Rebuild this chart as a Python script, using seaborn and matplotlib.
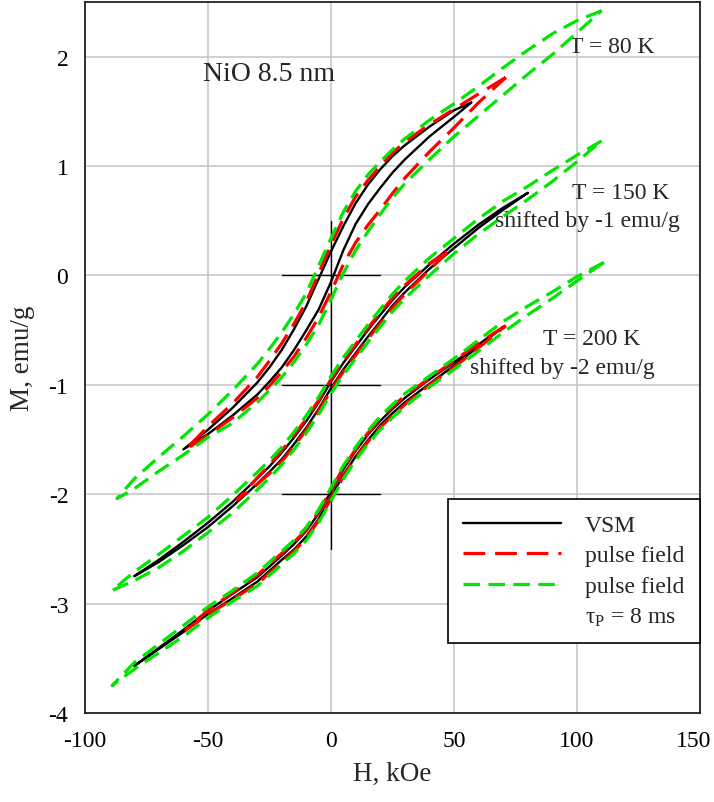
import numpy as np
import matplotlib
matplotlib.use("Agg")
import matplotlib.pyplot as plt
from matplotlib.lines import Line2D
import matplotlib.transforms as mtransforms
import seaborn as sns

# ---------------- data (raw M, emu/g; plotted = raw + shift) ----------------
temps = ["80 K", "150 K", "200 K"]
shifts = [0.0, -1.0, -2.0]

# 80 K
h80_vsm = [57, 50, 40, 30, 25, 20, 15, 10, 5, 0, -5, -10, -15, -20, -25, -30, -40, -50, -60]
m80_vsm_up = [1.58, 1.51, 1.36, 1.19, 1.09, 0.97, 0.83, 0.66, 0.45, 0.22, -0.03, -0.28, -0.49, -0.68, -0.84, -0.98, -1.21, -1.41, -1.59]
m80_vsm_lo = [1.58, 1.45, 1.27, 1.06, 0.94, 0.80, 0.65, 0.47, 0.23, -0.06, -0.31, -0.50, -0.68, -0.84, -0.97, -1.09, -1.28, -1.45, -1.59]

h80_pf = [71, 60, 50, 40, 30, 25, 20, 15, 10, 5, 0, -5, -10, -15, -20, -25, -30, -40, -50, -59]
m80_pf_up = [1.81, 1.66, 1.52, 1.38, 1.22, 1.12, 1.00, 0.87, 0.72, 0.52, 0.28, 0.02, -0.24, -0.44, -0.62, -0.78, -0.93, -1.17, -1.38, -1.59]
m80_pf_lo = [1.81, 1.58, 1.35, 1.13, 0.89, 0.75, 0.60, 0.46, 0.30, 0.10, -0.15, -0.38, -0.57, -0.74, -0.88, -1.01, -1.12, -1.30, -1.46, -1.59]

h80_pf8 = [110, 100, 90, 80, 70, 60, 50, 40, 30, 25, 20, 15, 10, 5, 0, -5, -10, -15, -20, -25, -30, -40, -50, -60, -70, -80, -87]
m80_pf8_up = [2.42, 2.33, 2.21, 2.06, 1.90, 1.73, 1.57, 1.42, 1.25, 1.15, 1.04, 0.92, 0.77, 0.58, 0.34, 0.09, -0.16, -0.35, -0.52, -0.67, -0.81, -1.05, -1.27, -1.47, -1.66, -1.86, -2.04]
m80_pf8_lo = [2.42, 2.22, 2.02, 1.84, 1.65, 1.46, 1.27, 1.06, 0.84, 0.71, 0.56, 0.40, 0.23, 0.02, -0.22, -0.45, -0.63, -0.79, -0.93, -1.05, -1.16, -1.35, -1.48, -1.64, -1.79, -1.95, -2.04]

# 150 K
h150_vsm = [80, 70, 60, 50, 40, 30, 25, 20, 15, 10, 5, 0, -5, -10, -15, -20, -25, -30, -40, -50, -60, -70, -80]
m150_vsm_up = [1.755, 1.62, 1.465, 1.29, 1.10, 0.895, 0.775, 0.64, 0.50, 0.35, 0.20, 0.03, -0.16, -0.33, -0.48, -0.62, -0.745, -0.855, -1.07, -1.26, -1.435, -1.60, -1.75]
m150_vsm_lo = [1.755, 1.60, 1.435, 1.25, 1.06, 0.845, 0.725, 0.58, 0.44, 0.29, 0.14, -0.03, -0.22, -0.39, -0.54, -0.68, -0.795, -0.905, -1.11, -1.30, -1.465, -1.62, -1.75]

h150_pf = [47, 40, 30, 25, 20, 15, 10, 5, 0, -5, -10, -15, -20, -25, -30, -38]
m150_pf_up = [1.21, 1.11, 0.91, 0.795, 0.66, 0.52, 0.37, 0.22, 0.05, -0.14, -0.31, -0.46, -0.60, -0.73, -0.85, -1.05]
m150_pf_lo = [1.21, 1.05, 0.83, 0.705, 0.56, 0.42, 0.27, 0.12, -0.05, -0.24, -0.41, -0.56, -0.70, -0.81, -0.91, -1.05]

h150_pf8 = [110, 100, 90, 80, 70, 60, 50, 40, 30, 25, 20, 15, 10, 5, 0, -5, -10, -15, -20, -25, -30, -40, -50, -60, -70, -80, -89]
m150_pf8_up = [2.23, 2.10, 1.96, 1.815, 1.68, 1.52, 1.34, 1.16, 0.95, 0.83, 0.69, 0.55, 0.40, 0.25, 0.08, -0.11, -0.28, -0.43, -0.57, -0.69, -0.80, -1.01, -1.21, -1.38, -1.55, -1.71, -1.88]
m150_pf8_lo = [2.23, 2.04, 1.86, 1.695, 1.54, 1.38, 1.20, 1.00, 0.79, 0.67, 0.53, 0.39, 0.24, 0.09, -0.08, -0.27, -0.44, -0.59, -0.73, -0.85, -0.96, -1.17, -1.35, -1.52, -1.67, -1.79, -1.88]

# 200 K
h200_vsm = [70, 60, 50, 40, 30, 25, 20, 15, 10, 5, 0, -5, -10, -15, -20, -25, -30, -40, -50, -60, -70, -80]
m200_vsm_up = [1.53, 1.37, 1.205, 1.05, 0.88, 0.78, 0.67, 0.545, 0.395, 0.225, 0.025, -0.175, -0.335, -0.455, -0.56, -0.66, -0.76, -0.91, -1.065, -1.24, -1.405, -1.57]
m200_vsm_lo = [1.53, 1.35, 1.175, 1.01, 0.84, 0.74, 0.63, 0.495, 0.345, 0.175, -0.025, -0.225, -0.385, -0.505, -0.60, -0.70, -0.80, -0.95, -1.095, -1.26, -1.415, -1.57]

h200_pf = [71, 60, 50, 40, 30, 25, 20, 15, 10, 5, 0, -5, -10, -15, -20, -25, -30, -40, -50, -59]
m200_pf_up = [1.54, 1.38, 1.22, 1.06, 0.90, 0.80, 0.69, 0.56, 0.41, 0.24, 0.04, -0.16, -0.32, -0.44, -0.54, -0.64, -0.74, -0.90, -1.06, -1.24]
m200_pf_lo = [1.54, 1.34, 1.16, 1.00, 0.82, 0.72, 0.61, 0.48, 0.33, 0.16, -0.04, -0.24, -0.40, -0.52, -0.62, -0.72, -0.82, -0.96, -1.10, -1.24]

h200_pf8 = [111, 100, 90, 80, 70, 60, 50, 40, 30, 25, 20, 15, 10, 5, 0, -5, -10, -15, -20, -25, -30, -40, -50, -60, -70, -80, -89]
m200_pf8_up = [2.12, 1.99, 1.85, 1.72, 1.58, 1.41, 1.24, 1.08, 0.92, 0.82, 0.71, 0.58, 0.43, 0.26, 0.06, -0.14, -0.30, -0.42, -0.52, -0.62, -0.72, -0.88, -1.03, -1.20, -1.37, -1.54, -1.75]
m200_pf8_lo = [2.12, 1.95, 1.79, 1.64, 1.48, 1.31, 1.14, 0.98, 0.80, 0.70, 0.59, 0.46, 0.31, 0.14, -0.06, -0.26, -0.42, -0.54, -0.64, -0.74, -0.84, -0.98, -1.13, -1.30, -1.45, -1.60, -1.75]

series_labels = ["VSM", "pulse field", "pulse field"]
legend_extra = "\u03c4$_{\\mathrm{P}}$ = 8 ms"

# reference crosses
cross_h = [-20, 20]
cross_levels = [0, -1, -2]
cross_v = [0.5, -2.5]

x_ticks = [-100, -50, 0, 50, 100, 150]
y_ticks = [-4, -3, -2, -1, 0, 1, 2]

# ---------------- style ----------------
sns.set_style("white")
plt.rcParams["font.family"] = ["Liberation Serif", "DejaVu Serif"]
plt.rcParams["mathtext.fontset"] = "custom"
plt.rcParams["mathtext.rm"] = "Liberation Serif"
plt.rcParams["mathtext.it"] = "Liberation Serif:italic"
plt.rcParams["axes.unicode_minus"] = False

W, H = 714, 803
fig = plt.figure(figsize=(W / 100, H / 100), dpi=100)
ax = fig.add_axes([85 / W, 1 - 714 / H, 615 / W, 711 / H])

colors = ["black", "#ff0000", "#00e600"]
lws = [1.7, 2.3, 2.3]
styles = ["-", (0, (6.8, 3.1)), (0, (5.2, 2.6))]

loops = [
    [(h80_vsm, m80_vsm_up, m80_vsm_lo), (h80_pf, m80_pf_up, m80_pf_lo), (h80_pf8, m80_pf8_up, m80_pf8_lo)],
    [(h150_vsm, m150_vsm_up, m150_vsm_lo), (h150_pf, m150_pf_up, m150_pf_lo), (h150_pf8, m150_pf8_up, m150_pf8_lo)],
    [(h200_vsm, m200_vsm_up, m200_vsm_lo), (h200_pf, m200_pf_up, m200_pf_lo), (h200_pf8, m200_pf8_up, m200_pf8_lo)],
]

for k in range(3):  # series order: black, red, green
    for t, shift in enumerate(shifts):
        hh, up, lo = loops[t][k]
        x = np.concatenate([np.array(hh, float), np.array(hh[::-1], float)])
        y = np.concatenate([np.array(up, float), np.array(lo[::-1], float)]) + shift
        sns.lineplot(x=x, y=y, sort=False, estimator=None, ax=ax, color=colors[k],
                     linewidth=lws[k], linestyle=styles[k], zorder=3 + k)

# crosses
for lev in cross_levels:
    ax.plot(cross_h, [lev, lev], color="black", lw=1.0, zorder=2)
ax.plot([0, 0], cross_v, color="black", lw=1.0, zorder=2)

ax.set_xlim(-100, 150)
ax.set_ylim(-4, 2.5)
ax.set_xticks(x_ticks)
ax.set_yticks(y_ticks)
ax.set_xticklabels([str(v) for v in x_ticks])
ax.set_yticklabels([str(v) for v in y_ticks])
ax.grid(True, color="#c8c8c8", lw=1.2, zorder=0)
ax.set_axisbelow(True)
for s in ax.spines.values():
    s.set_color("#222222")
    s.set_linewidth(1.3)
ax.tick_params(direction="out", length=7, width=1.2, colors="black", labelsize=17, pad=5)
# keep the last x tick label inside the canvas
last = ax.get_xticklabels()[-1]
last.set_transform(last.get_transform() + mtransforms.ScaledTranslation(-6 / 100, 0, fig.dpi_scale_trans))

ax.set_xlabel("H, kOe", fontsize=19.5)
ax.set_ylabel("M, emu/g", fontsize=19.5)
ax.xaxis.set_label_coords(0.5, -0.068)
ax.yaxis.set_label_coords(-0.082, 0.5)

ax.text(-52, 1.85, "NiO 8.5 nm", fontsize=20, va="center", ha="left")
ax.text(96.7, 2.09, "T = 80 K", fontsize=17, va="center", ha="left")
ax.text(98.0, 0.76, "T = 150 K", fontsize=17, va="center", ha="left")
ax.text(66.7, 0.50, "shifted by -1 emu/g", fontsize=17, va="center", ha="left")
ax.text(86.2, -0.575, "T = 200 K", fontsize=17, va="center", ha="left")
ax.text(56.5, -0.84, "shifted by -2 emu/g", fontsize=17, va="center", ha="left")

handles = [Line2D([], [], color=colors[i], lw=lws[i], linestyle=styles[i]) for i in range(3)]
handles.append(Line2D([], [], color="none"))
labels = series_labels + [legend_extra]
leg = ax.legend(handles, labels, loc="upper left", bbox_to_anchor=(448 / W, 1 - 500 / H),
                bbox_transform=fig.transFigure, borderaxespad=0, fontsize=17,
                handlelength=4.15, handletextpad=1.0, labelspacing=0.38, borderpad=0.65,
                fancybox=False, framealpha=1, edgecolor="black", facecolor="white")
leg.get_frame().set_linewidth(1.2)
leg.set_zorder(10)

fig.savefig("out.png", dpi=100)
